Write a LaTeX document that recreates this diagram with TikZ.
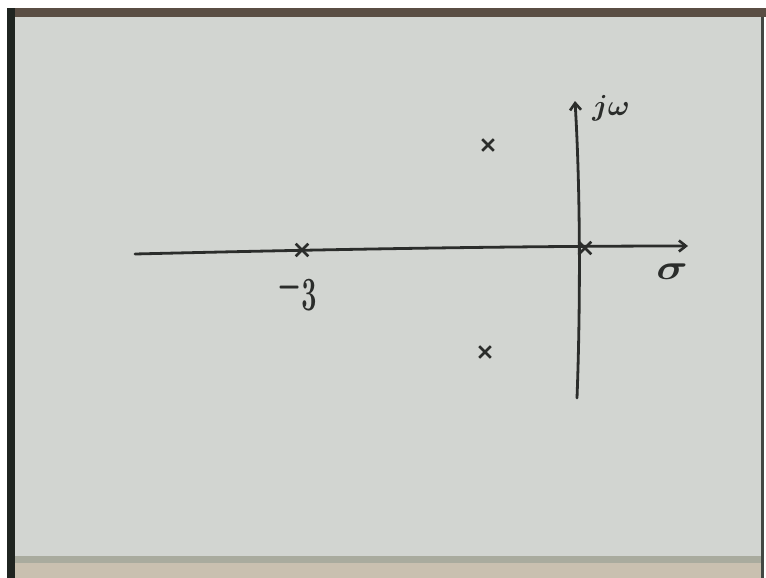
\documentclass[tikz,border=0pt]{standalone}
\usetikzlibrary{shapes.misc,arrows.meta}
\definecolor{paper}{HTML}{D2D5D1}
\definecolor{ink}{HTML}{2B2D2B}
\definecolor{frame}{HTML}{1F2420}
\definecolor{topbar}{HTML}{5A4E44}
\definecolor{botgrey}{HTML}{A9AB9E}
\definecolor{botbeige}{HTML}{C9C0B0}
\tikzset{
  axis/.style={draw=ink, line width=2.8pt, line cap=round, -{Straight Barb[length=7pt,width=11pt,line width=2.6pt]}},
  pole/.style={cross out, draw=ink, line width=2.6pt, minimum size=10pt, inner sep=0pt},
  hand/.style={text=ink, inner sep=0pt, font=\huge\boldmath}
}
\begin{document}
\begin{tikzpicture}[x=1pt,y=-1pt]
\useasboundingbox (0,0) rectangle (766,578);
\fill[white] (0,0) rectangle (766,578);
% photo frame
\fill[paper] (15,17) rectangle (762,556);
\fill[botgrey] (15,556) rectangle (762,563);
\fill[botbeige] (15,563) rectangle (762,578);
\fill[topbar] (7,8) rectangle (766,17);
\fill[frame] (7,8) rectangle (15,578);
\fill[frame!80!paper] (761,17) rectangle (764,578);
% axes
\coordinate (xl) at (135,254);
\coordinate (xr) at (688,246);
\coordinate (yb) at (577,398);
\coordinate (yt) at (575,101);
\draw[axis] (xl) .. controls (300,250) and (500,246) .. (xr);
\draw[axis] (yb) .. controls (580,320) and (581,200) .. (yt);
% poles
\node[pole] (p0) at (585,248) {};
\node[pole] (p3) at (302,250) {};
\node[pole, minimum size=9pt] (pu) at (488,145) {};
\node[pole, minimum size=9pt] (pd) at (485,352) {};
% labels
\node[hand, xscale=1.3, yscale=2.3] (l3) at (297,290) {$-$\raisebox{-5pt}{$3$}};
\node[hand, scale=1.4] (lw) at (611,108) {$j\omega$};
\node[hand, xscale=2.1, yscale=1.7] (ls) at (672,272) {$\sigma$};
\end{tikzpicture}
\end{document}
